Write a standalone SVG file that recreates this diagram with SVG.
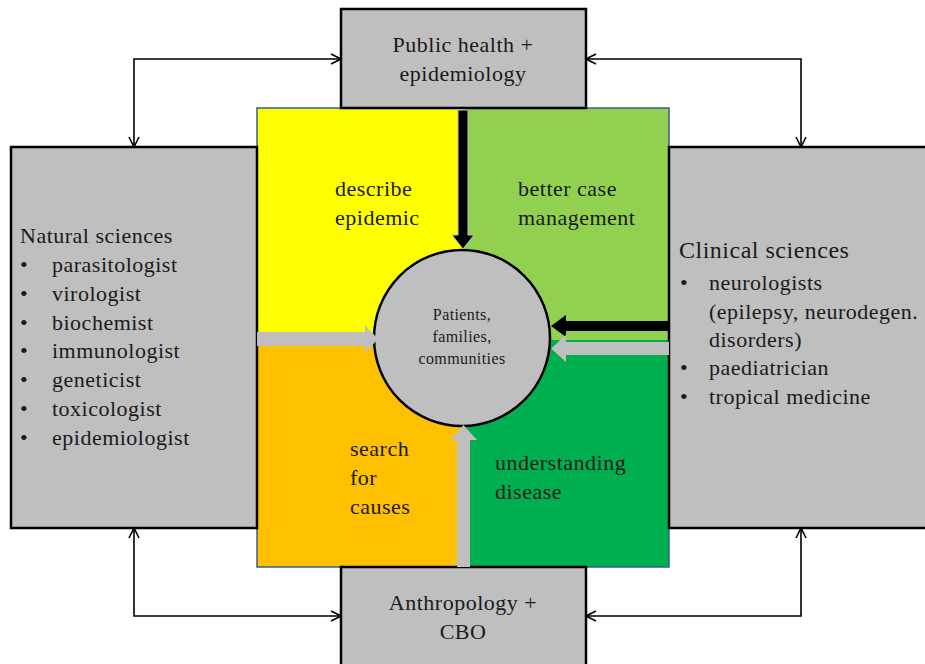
<svg xmlns="http://www.w3.org/2000/svg" width="925" height="664" viewBox="0 0 925 664">
<style>
text{font-family:"Liberation Serif","DejaVu Serif",serif;fill:#1a1a1a;font-size:22px;letter-spacing:0.5px}
.box{fill:#bfbfbf;stroke:#000;stroke-width:2.5}
.c{text-anchor:middle}
.link{fill:none;stroke:#000;stroke-width:1.6}
.small{font-size:16px;letter-spacing:0.4px}
</style>
<defs>
<marker id="v" viewBox="0 0 12 12" refX="11" refY="6" markerWidth="12" markerHeight="12" markerUnits="userSpaceOnUse" orient="auto-start-reverse">
<path d="M1,1 L11,6 L1,11" fill="none" stroke="#000" stroke-width="1.6"/>
</marker>
</defs>
<rect width="925" height="664" fill="#fff"/>
<g id="quadrants">
<rect x="257" y="108" width="206" height="232" fill="#ffff00"/>
<rect x="463" y="108" width="206" height="232" fill="#92d050"/>
<rect x="257" y="340" width="206" height="227" fill="#ffc000"/>
<rect x="463" y="340" width="206" height="227" fill="#00b050"/>
<rect x="257" y="108" width="412" height="459" fill="none" stroke="#385d8a" stroke-width="1.5"/>
<text x="335" y="196">describe</text><text x="335" y="225">epidemic</text>
<text x="518" y="196">better case</text><text x="518" y="225">management</text>
<text x="350" y="456">search</text><text x="350" y="485">for</text><text x="350" y="514">causes</text>
<text x="495" y="470">understanding</text><text x="495" y="499">disease</text>
</g>
<g id="top">
<rect class="box" x="341" y="9" width="245" height="99"/>
<text class="c" x="463" y="52">Public health +</text>
<text class="c" x="463" y="81">epidemiology</text>
</g>
<g id="bottom">
<rect class="box" x="341" y="567" width="245" height="105"/>
<text class="c" x="463" y="610">Anthropology +</text>
<text class="c" x="463" y="639">CBO</text>
</g>
<g id="left">
<rect class="box" x="11" y="147" width="246" height="381"/>
<text x="20" y="243">Natural sciences</text>
<g>
<text x="20" y="272">•</text><text x="52" y="272">parasitologist</text>
<text x="20" y="301">•</text><text x="52" y="301">virologist</text>
<text x="20" y="330">•</text><text x="52" y="330">biochemist</text>
<text x="20" y="358">•</text><text x="52" y="358">immunologist</text>
<text x="20" y="387">•</text><text x="52" y="387">geneticist</text>
<text x="20" y="416">•</text><text x="52" y="416">toxicologist</text>
<text x="20" y="445">•</text><text x="52" y="445">epidemiologist</text>
</g>
</g>
<g id="right">
<rect class="box" x="669" y="147" width="270" height="381"/>
<text x="679" y="258" style="font-size:24px">Clinical sciences</text>
<text x="680" y="290">•</text><text x="709" y="290">neurologists</text>
<text x="709" y="319">(epilepsy, neurodegen.</text>
<text x="709" y="347">disorders)</text>
<text x="680" y="375">•</text><text x="709" y="375">paediatrician</text>
<text x="680" y="404">•</text><text x="709" y="404">tropical medicine</text>
</g>
<g id="center">
<circle cx="462" cy="338" r="88" fill="#bfbfbf" stroke="#000" stroke-width="2.5"/>
<text class="c small" x="462" y="320">Patients,</text>
<text class="c small" x="462" y="342">families,</text>
<text class="c small" x="462" y="364">communities</text>
</g>
<g id="connectors">
<path d="M458,110 H468 V235 H474 L463,249 L452,235 H458 Z" fill="#000" stroke="#bfbfbf" stroke-width="1"/>
<path d="M457,567 V440 H450 L463.5,425 L477,440 H470 V567 Z" fill="#bfbfbf"/>
<path d="M257,332 H365 V325 L378,339 L365,353 V346 H257 Z" fill="#bfbfbf"/>
<path d="M669,321 H566 V315 L551,326 L566,337 V331 H669 Z" fill="#000"/>
<path d="M669,342 H566 V335 L551,348.5 L566,362 V355 H669 Z" fill="#bfbfbf"/>
<path class="link" d="M134,147 V59 H341" marker-start="url(#v)" marker-end="url(#v)"/>
<path class="link" d="M586,59 H801 V147" marker-start="url(#v)" marker-end="url(#v)"/>
<path class="link" d="M134,528 V616 H341" marker-start="url(#v)" marker-end="url(#v)"/>
<path class="link" d="M586,616 H801 V528" marker-start="url(#v)" marker-end="url(#v)"/>
</g>
</svg>
